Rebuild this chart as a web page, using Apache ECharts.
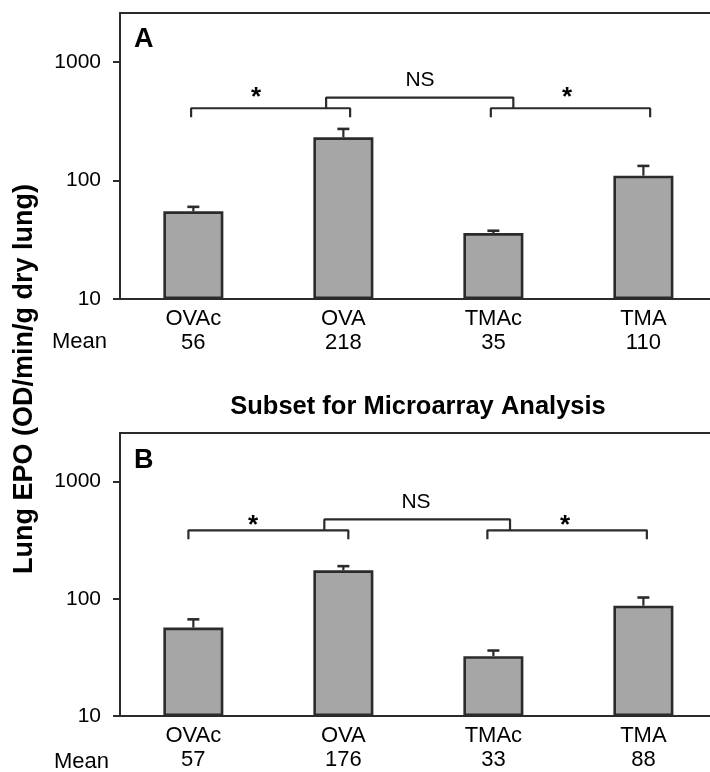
<!DOCTYPE html>
<html>
<head>
<meta charset="utf-8">
<script src="https://cdn.jsdelivr.net/npm/echarts@6/dist/echarts.min.js"></script>
<style>
html,body{margin:0;padding:0;background:#fff;}
#chart{width:710px;height:772px;}
</style>
</head>
<body>
<div id="chart"></div>
<script>
// ---- data ----
const categories = ['OVAc', 'OVA', 'TMAc', 'TMA'];
const yTicks = [10, 100, 1000];
// Panel A
const meansA = ['56', '218', '35', '110'];
const barsA = [55, 232, 36, 110];
const errTopA = [60, 273, 37.7, 133];
// Panel B (subset for microarray analysis)
const meansB = ['57', '176', '33', '88'];
const barsB = [56.8, 175, 32.4, 87.3];
const errTopB = [66.8, 190, 36.2, 102.6];
// significance brackets (y levels) and x extents
const bracketA = { low: 343, mid: 408, high: 502 };
const bracketB = { low: 322, mid: 384, high: 476 };
const bracketXA = { l1: -0.015, r1: 1.045, riser1: 0.885, riser2: 2.133, l2: 1.983, r2: 3.045 };
const bracketXB = { l1: -0.033, r1: 1.033, riser1: 0.873, riser2: 2.111, l2: 1.960, r2: 3.023 };
const sigLabelsA = [{ x: 0.418, y: 500, t: '*' }, { x: 1.511, y: 709, t: 'NS' }, { x: 2.491, y: 500, t: '*' }];
const sigLabelsB = [{ x: 0.398, y: 416, t: '*' }, { x: 1.484, y: 664, t: 'NS' }, { x: 2.478, y: 416, t: '*' }];

const FONT = "'Liberation Sans', Arial, Helvetica, sans-serif";
const DARK = '#2b2b2b';
const XMIN = -0.489, XMAX = 3.444;

const chart = echarts.init(document.getElementById('chart'), null, { renderer: 'canvas' });

function xAxes(gridIndex, means) {
  return [
    {
      type: 'value', gridIndex, min: XMIN, max: XMAX, position: 'bottom',
      axisLine: { show: true, onZero: false, lineStyle: { color: DARK, width: 2 } },
      axisTick: { show: false }, splitLine: { show: false },
      axisLabel: {
        show: true, customValues: [0, 1, 2, 3], margin: 8,
        fontSize: 22, lineHeight: 24, color: '#000', fontFamily: FONT,
        formatter: v => categories[Math.round(v)] + '\n' + means[Math.round(v)]
      }
    },
    {
      type: 'value', gridIndex, min: XMIN, max: XMAX, position: 'top',
      axisLine: { show: true, onZero: false, lineStyle: { color: DARK, width: 2 } },
      axisTick: { show: false }, splitLine: { show: false }, axisLabel: { show: false }
    }
  ];
}
function yAxis(gridIndex) {
  return {
    type: 'log', logBase: 10, gridIndex, min: 10, max: 2600, startValue: 10,
    axisLine: { show: true, onZero: false, lineStyle: { color: DARK, width: 2 } },
    axisTick: { show: true, customValues: yTicks, length: 7, lineStyle: { color: DARK, width: 2 } },
    splitLine: { show: false }, minorTick: { show: false },
    axisLabel: { customValues: yTicks, margin: 19, fontSize: 21, color: '#000', fontFamily: FONT,
      formatter: v => String(Math.round(v)) }
  };
}
function errRender(params, api) {
  const x = api.value(0), lo = api.value(1), hi = api.value(2);
  const p0 = api.coord([x, lo]), p1 = api.coord([x, hi]);
  return {
    type: 'group', children: [
      { type: 'line', shape: { x1: p0[0], y1: p0[1], x2: p1[0], y2: p1[1] }, style: { stroke: DARK, lineWidth: 2.2 } },
      { type: 'line', shape: { x1: p1[0] - 6, y1: p1[1], x2: p1[0] + 6, y2: p1[1] }, style: { stroke: DARK, lineWidth: 2.6 } }
    ]
  };
}
function textRender(labels) {
  return function (params, api) {
    const l = labels[params.dataIndex];
    const p = api.coord([api.value(0), api.value(1)]);
    const star = l.t === '*';
    return {
      type: 'text', x: p[0], y: p[1],
      style: { text: l.t, fontSize: star ? 26 : 21, fontWeight: star ? 'bold' : 'normal', fontFamily: FONT,
        fill: '#000', textAlign: 'center', textVerticalAlign: 'middle' }
    };
  };
}
function panelSeries(idx, bars, errs, bx, bl, labels) {
  const xa = idx * 2, ya = idx;
  const lineStyle = { color: DARK, width: 2.2 };
  const base = { type: 'line', xAxisIndex: xa, yAxisIndex: ya, symbol: 'none', lineStyle, silent: true, z: 5, animation: false };
  return [
    {
      type: 'bar', xAxisIndex: xa, yAxisIndex: ya, barWidth: 60,
      data: bars.map((v, i) => [i, v]),
      itemStyle: { color: '#a6a6a6', borderColor: DARK, borderWidth: 2.6 }, z: 2
    },
    {
      type: 'custom', xAxisIndex: xa, yAxisIndex: ya, renderItem: errRender, z: 3,
      data: bars.map((v, i) => [i, v, errs[i]])
    },
    Object.assign({}, base, { data: [[bx.l1, bl.low], [bx.l1, bl.mid], [bx.r1, bl.mid], [bx.r1, bl.low]] }),
    Object.assign({}, base, { data: [[bx.riser1, bl.mid], [bx.riser1, bl.high], [bx.riser2, bl.high], [bx.riser2, bl.mid]] }),
    Object.assign({}, base, { data: [[bx.l2, bl.low], [bx.l2, bl.mid], [bx.r2, bl.mid], [bx.r2, bl.low]] }),
    {
      type: 'custom', xAxisIndex: xa, yAxisIndex: ya, renderItem: textRender(labels), z: 6, silent: true,
      data: labels.map(l => [l.x, l.y])
    }
  ];
}

chart.setOption({
  animation: false,
  backgroundColor: '#fff',
  grid: [
    { left: 120, right: 0, top: 13, height: 286 },
    { left: 120, right: 0, top: 433, height: 285 }
  ],
  xAxis: [...xAxes(0, meansA), ...xAxes(1, meansB)],
  yAxis: [yAxis(0), yAxis(1)],
  series: [
    ...panelSeries(0, barsA, errTopA, bracketXA, bracketA, sigLabelsA),
    ...panelSeries(1, barsB, errTopB, bracketXB, bracketB, sigLabelsB)
  ],
  graphic: [
    { type: 'text', x: 25, y: 379, rotation: Math.PI / 2,
      style: { text: 'Lung EPO (OD/min/g dry lung)', fontSize: 27, fontWeight: 'bold', fontFamily: FONT, fill: '#000', textAlign: 'center', textVerticalAlign: 'middle' } },
    { type: 'text', x: 418, y: 407,
      style: { text: 'Subset for Microarray Analysis', fontSize: 25.5, fontWeight: 'bold', fontFamily: FONT, fill: '#000', textAlign: 'center', textVerticalAlign: 'middle' } },
    { type: 'text', x: 134, y: 40,
      style: { text: 'A', fontSize: 27, fontWeight: 'bold', fontFamily: FONT, fill: '#000', textAlign: 'left', textVerticalAlign: 'middle' } },
    { type: 'text', x: 134, y: 461,
      style: { text: 'B', fontSize: 27, fontWeight: 'bold', fontFamily: FONT, fill: '#000', textAlign: 'left', textVerticalAlign: 'middle' } },
    { type: 'text', x: 107, y: 342,
      style: { text: 'Mean', fontSize: 22, fontFamily: FONT, fill: '#000', textAlign: 'right', textVerticalAlign: 'middle' } },
    { type: 'text', x: 109, y: 762,
      style: { text: 'Mean', fontSize: 22, fontFamily: FONT, fill: '#000', textAlign: 'right', textVerticalAlign: 'middle' } }
  ]
});
</script>
</body>
</html>
